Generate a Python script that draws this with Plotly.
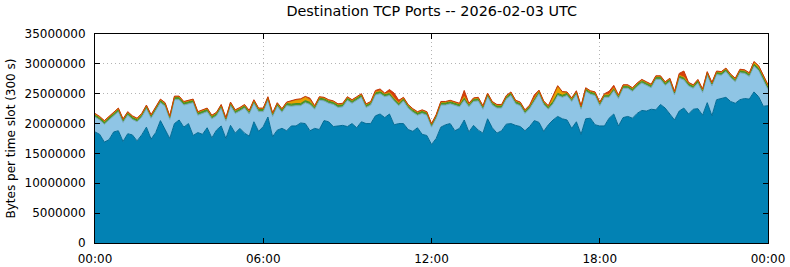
import pandas as pd
import plotly.graph_objects as go

# 10-minute time slots over the day (in millions of bytes)
times = pd.date_range("2026-02-03 00:00", "2026-02-04 00:00", freq="10min")

base_dark = [
    18.6, 18.2, 16.9, 17.3, 18.6, 18.8, 17.0, 18.3, 18.1, 17.1, 18.1, 19.4, 17.4, 18.5, 20.5, 18.9, 17.5, 20.0, 20.6, 19.4, 20.0, 18.0, 18.5, 18.2, 19.3,
    17.6, 18.9, 19.6, 17.5, 19.7, 18.4, 19.2, 18.4, 17.9, 20.3, 18.7, 19.5, 21.1, 17.8, 18.9, 19.2, 18.8, 19.6, 19.6, 20.1, 20.0, 18.8, 19.2, 19.0,
    20.5, 20.3, 19.5, 19.6, 19.7, 19.5, 20.0, 19.3, 20.3, 20.0, 20.0, 21.3, 21.6, 21.0, 21.6, 19.8, 20.0, 20.0, 19.0, 18.7, 19.3, 18.2, 18.0, 16.5,
    17.5, 19.4, 19.8, 20.0, 18.8, 19.2, 20.6, 18.6, 19.7, 18.9, 18.4, 20.8, 19.3, 18.4, 18.8, 19.9, 20.0, 19.7, 19.5, 18.8, 19.5, 20.5, 20.2, 18.7,
    19.8, 20.6, 21.2, 20.8, 20.6, 19.2, 20.3, 18.2, 20.8, 20.9, 19.8, 19.6, 19.6, 20.9, 21.6, 19.6, 21.0, 21.2, 20.9, 21.7, 22.2, 22.1, 22.4, 22.3,
    23.2, 22.6, 21.6, 20.6, 22.1, 22.6, 21.6, 22.4, 22.5, 21.4, 23.5, 21.3, 24.0, 24.2, 24.4, 23.7, 23.4, 24.0, 24.2, 24.1, 25.3, 24.5, 22.9, 23.0,
]

light_blue = [
    2.5, 2.4, 3.0, 3.3, 2.6, 3.2, 3.2, 3.1, 2.6, 3.2, 3.0, 3.1, 3.5, 3.6, 3.0, 4.0, 3.2, 4.0, 3.4, 3.7, 3.3, 5.5, 2.9, 3.5, 2.7,
    3.2, 2.4, 3.0, 2.9, 3.3, 3.3, 2.9, 4.2, 3.7, 3.1, 3.3, 2.5, 2.8, 3.4, 4.0, 2.7, 4.2, 3.3, 3.4, 2.9, 3.5, 4.4, 3.2, 4.9,
    3.3, 3.1, 3.7, 3.1, 3.1, 4.4, 3.4, 4.6, 4.1, 2.7, 3.1, 3.5, 3.4, 3.5, 3.1, 4.0, 3.0, 3.8, 3.6, 3.2, 2.1, 3.5, 3.4, 2.9,
    3.4, 3.7, 3.3, 3.3, 4.3, 3.6, 3.3, 4.2, 4.0, 4.9, 4.0, 3.7, 3.8, 4.2, 3.8, 4.2, 4.7, 3.6, 3.5, 2.9, 3.0, 3.3, 4.8, 4.5,
    2.6, 2.7, 3.5, 3.6, 4.1, 4.5, 4.6, 4.2, 4.6, 4.0, 4.9, 3.4, 4.8, 3.5, 3.9, 4.6, 4.9, 4.7, 4.5, 4.5, 4.6, 4.3, 3.6, 5.1,
    4.2, 3.8, 5.4, 4.2, 5.5, 4.7, 4.7, 3.5, 4.3, 3.8, 4.6, 5.0, 4.2, 3.9, 4.3, 4.0, 3.6, 4.5, 4.2, 3.8, 4.3, 4.4, 4.3, 2.7,
]

green = [
    0.35, 0.35, 0.35, 0.35, 0.35, 0.35, 0.35, 0.35, 0.35, 0.35, 0.35, 0.35, 0.35, 0.35, 0.35, 0.35, 0.35, 0.35, 0.35, 0.35, 0.35, 0.35, 0.35, 0.35, 0.35,
    0.35, 0.35, 0.35, 0.35, 0.35, 0.35, 0.35, 0.35, 0.35, 0.35, 0.35, 0.35, 0.35, 0.35, 0.35, 0.35, 0.35, 0.35, 0.35, 0.35, 0.35, 0.35, 0.35, 0.35,
    0.35, 0.35, 0.35, 0.35, 0.35, 0.35, 0.35, 0.35, 0.35, 0.35, 0.35, 0.35, 0.35, 0.35, 0.35, 0.35, 0.35, 0.35, 0.35, 0.35, 0.35, 0.35, 0.35, 0.35,
    0.35, 0.35, 0.35, 0.35, 0.35, 0.35, 0.35, 0.35, 0.35, 0.35, 0.35, 0.35, 0.35, 0.35, 0.35, 0.35, 0.35, 0.35, 0.35, 0.35, 0.35, 0.35, 0.35, 0.35,
    0.35, 0.35, 0.35, 0.35, 0.35, 0.35, 0.35, 0.35, 0.35, 0.35, 0.35, 0.35, 0.35, 0.35, 0.35, 0.35, 0.35, 0.35, 0.35, 0.35, 0.35, 0.35, 0.35, 0.35,
    0.35, 0.35, 0.35, 0.35, 0.35, 0.35, 0.35, 0.35, 0.35, 0.35, 0.35, 0.35, 0.35, 0.35, 0.35, 0.35, 0.35, 0.35, 0.35, 0.35, 0.35, 0.35, 0.35, 0.35,
]

orange = [
    0.15, 0.15, 0.15, 0.15, 0.15, 0.15, 0.15, 0.15, 0.15, 0.15, 0.15, 0.15, 0.15, 0.15, 0.15, 0.15, 0.15, 0.15, 0.15, 0.15, 0.15, 0.15, 0.15, 0.15, 0.15,
    0.15, 0.15, 0.15, 0.15, 0.15, 0.15, 0.15, 0.15, 0.15, 0.15, 0.15, 0.15, 0.15, 0.15, 0.15, 0.15, 0.15, 0.5, 0.6, 0.7, 0.6, 0.4, 0.15, 0.15,
    0.15, 0.15, 0.15, 0.15, 0.15, 0.15, 0.15, 0.15, 0.15, 0.15, 0.15, 0.15, 0.15, 0.15, 0.15, 0.15, 0.15, 0.15, 0.15, 0.15, 0.15, 0.15, 0.15, 0.15,
    0.15, 0.15, 0.15, 0.15, 0.15, 0.15, 0.3, 0.15, 0.15, 0.15, 0.15, 0.15, 0.15, 0.15, 0.15, 0.15, 0.15, 0.15, 0.15, 0.15, 0.15, 0.15, 0.15, 0.15,
    0.15, 0.8, 1.2, 0.5, 0.15, 0.15, 0.15, 0.15, 0.15, 0.15, 0.15, 0.15, 0.15, 0.15, 0.15, 0.15, 0.15, 0.15, 0.15, 0.15, 0.15, 0.15, 0.15, 0.15,
    0.15, 0.15, 0.15, 0.15, 0.15, 0.15, 0.15, 0.15, 0.15, 0.15, 0.15, 0.15, 0.15, 0.15, 0.15, 0.15, 0.15, 0.15, 0.15, 0.15, 0.35, 0.35, 0.35, 0.35,
]

red = [
    0.1, 0.1, 0.1, 0.1, 0.1, 0.1, 0.1, 0.1, 0.1, 0.1, 0.1, 0.1, 0.1, 0.1, 0.1, 0.1, 0.1, 0.1, 0.1, 0.1, 0.1, 0.1, 0.1, 0.1, 0.1,
    0.1, 0.1, 0.1, 0.1, 0.1, 0.1, 0.1, 0.1, 0.1, 0.1, 0.1, 0.1, 0.1, 0.1, 0.1, 0.1, 0.1, 0.1, 0.1, 0.1, 0.1, 0.3, 0.1, 0.1,
    0.1, 0.1, 0.1, 0.1, 0.1, 0.1, 0.1, 0.1, 0.1, 0.1, 0.1, 0.25, 0.3, 0.1, 0.5, 0.8, 0.4, 0.1, 0.1, 0.1, 0.1, 0.1, 0.1, 0.1,
    0.1, 0.1, 0.1, 0.1, 0.1, 0.1, 1.0, 0.1, 0.1, 0.1, 0.1, 0.1, 0.1, 0.1, 0.1, 0.1, 0.1, 0.1, 0.1, 0.1, 0.1, 0.5, 0.1, 0.1,
    0.1, 0.1, 0.1, 0.1, 0.1, 0.1, 0.1, 0.1, 0.1, 0.1, 0.1, 0.1, 0.1, 0.5, 0.4, 0.1, 0.1, 0.1, 0.1, 0.1, 0.1, 0.1, 0.1, 0.1,
    0.1, 0.1, 0.1, 0.1, 0.3, 1.0, 0.1, 0.1, 0.1, 0.1, 0.1, 0.1, 0.1, 0.1, 0.1, 0.1, 0.1, 0.1, 0.1, 0.1, 0.1, 0.1, 0.1, 0.1,
]

series = [
    ("base", base_dark, "#0282b4", "#016a94"),
    ("light", light_blue, "#8fc5e5", "#7aa6be"),
    ("green", green, "#4e9a2a", "#3f8a22"),
    ("orange", orange, "#e9a000", "#d58f00"),
    ("red", red, "#d8400a", "#c43808"),
]

fig = go.Figure()
for name, vals, fillc, linec in series:
    fig.add_trace(go.Scatter(
        x=times, y=[v * 1e6 for v in vals], name=name,
        mode="lines", stackgroup="one",
        line=dict(color=linec, width=1),
        fillcolor=fillc, hoverinfo="skip",
    ))

font_family = "DejaVu Sans"
grid_dash = "1px,3px"
fig.update_layout(
    width=790, height=267,
    margin=dict(l=95, r=22, t=34, b=24, autoexpand=False),
    paper_bgcolor="white", plot_bgcolor="white",
    showlegend=False,
    font=dict(family=font_family, size=12, color="black"),
    title=dict(text="Destination TCP Ports -- 2026-02-03 UTC", x=0.5465, xanchor="center",
               yref="container", y=1 - 11 / 267, yanchor="middle",
               font=dict(size=14.4, family=font_family)),
)
fig.update_xaxes(
    range=[times[0], times[-1]], type="date", automargin=False,
    tickformat="%H:%M", dtick=6 * 3600 * 1000, tick0=times[0],
    ticks="inside", ticklen=5, tickcolor="black",
    showline=True, linecolor="black", linewidth=1, mirror="ticks",
    showgrid=True, gridcolor="#b4b4b4", griddash=grid_dash, gridwidth=1,
    zeroline=False, tickfont=dict(size=12), ticklabelstandoff=5,
)
fig.update_yaxes(
    range=[0, 35e6], dtick=5e6, tick0=0, tickformat="d", automargin=False,
    ticks="inside", ticklen=5, tickcolor="black",
    showline=True, linecolor="black", linewidth=1, mirror="ticks",
    showgrid=True, gridcolor="#b4b4b4", griddash=grid_dash, gridwidth=1,
    zeroline=False, tickfont=dict(size=12),
    title=dict(text="Bytes per time slot (300 s)", font=dict(size=12), standoff=6),
    ticklabelstandoff=6,
)

fig.write_html("out.html")
